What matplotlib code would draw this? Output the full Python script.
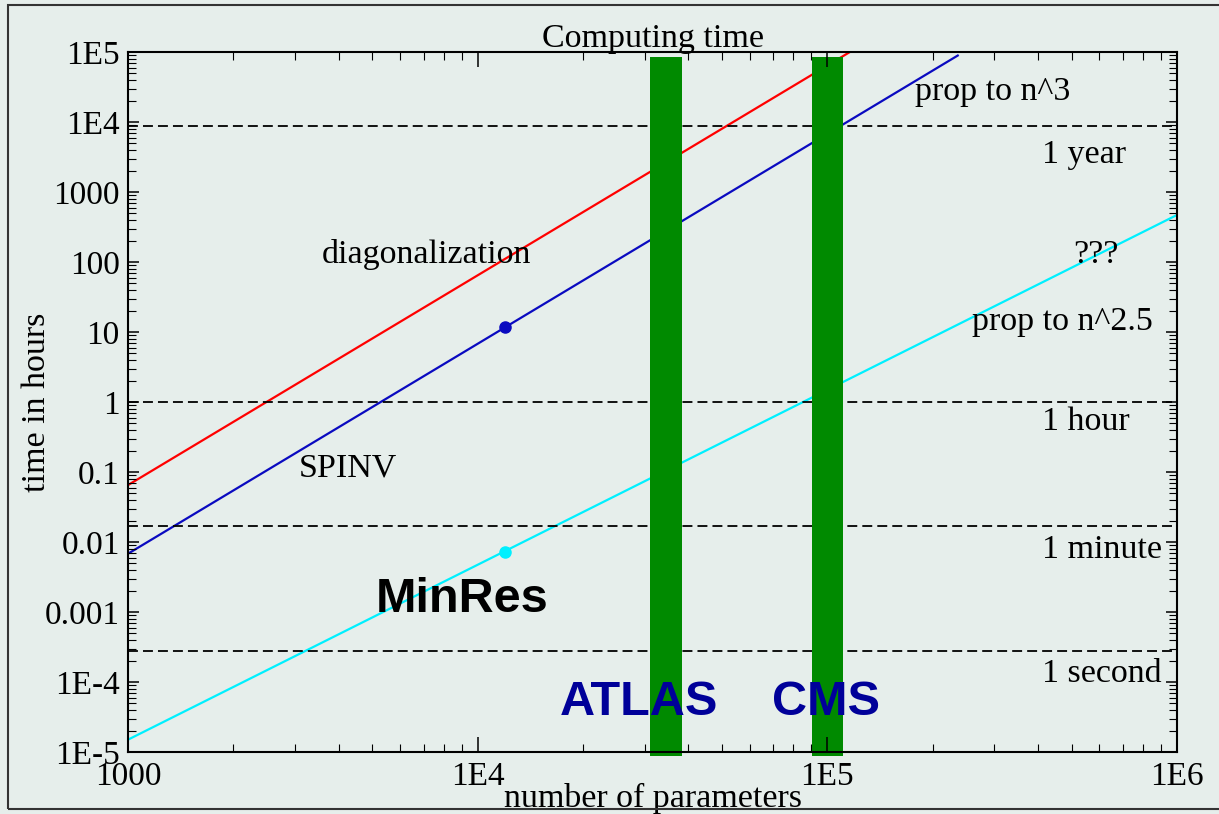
import numpy as np
import matplotlib
matplotlib.use('Agg')
import matplotlib.pyplot as plt
from matplotlib.ticker import LogLocator, NullFormatter
from matplotlib.patches import Rectangle

# values: n = number of parameters, t = time in hours
diag_n = [1000, 116000]
diag_t = [0.065, 1.0e5]
spinv_n = [1000, 236000]
spinv_t = [0.0068, 8.9e4]
minres_n = [1000, 1.0e6]
minres_t = [1.5e-5, 470]

# measured points
spinv_pt_n = [12000]
spinv_pt_t = [11.7]
minres_pt_n = [12000]
minres_pt_t = [0.0073]

# reference times (hours): 1 year, 1 hour, 1 minute, 1 second
time_limits = [8760, 1, 1 / 60, 1 / 3600]

# experiment sizes (range of parameters)
exp_names = ['ATLAS', 'CMS']
exp_lo = [3.11e4, 9.04e4]
exp_hi = [3.84e4, 1.11e5]

x_ticks = [1e3, 1e4, 1e5, 1e6]
x_labels = ['1000', '1E4', '1E5', '1E6']
y_ticks = [1e-5, 1e-4, 1e-3, 1e-2, 1e-1, 1, 10, 100, 1000, 1e4, 1e5]
y_labels = ['1E-5', '1E-4', '0.001', '0.01', '0.1', '1', '10', '100', '1000', '1E4', '1E5']

bg = '#e6eeeb'
plt.rcParams['font.family'] = ['Liberation Serif', 'DejaVu Serif']

fig = plt.figure(figsize=(12.19, 8.14), dpi=100, facecolor=bg)
ax = fig.add_axes([128 / 1219, 62 / 814, 1049 / 1219, 700 / 814])
ax.set_facecolor(bg)
ax.set_xscale('log')
ax.set_yscale('log')
ax.set_xlim(1e3, 1e6)
ax.set_ylim(1e-5, 1e5)

ax.plot(diag_n, diag_t, color='#ff0000', lw=1.6)
ax.plot(spinv_n, spinv_t, color='#0a0ac0', lw=1.6)
ax.plot(minres_n, minres_t, color='#00f0ff', lw=1.6)
ax.plot(spinv_pt_n, spinv_pt_t, 'o', color='#0a0ac0', ms=8)
ax.plot(minres_pt_n, minres_pt_t, 'o', color='#00f0ff', ms=8)

for t in time_limits:
    ax.axhline(t, color='black', lw=1.3, ls=(0, (5.5, 2.8)))

for lo, hi in zip(exp_lo, exp_hi):
    ax.axvspan(lo, hi, ymin=-0.006, ymax=0.993, color='#008a00', lw=0,
               zorder=2.2, clip_on=False)

# ticks
ax.set_axisbelow(False)
ax.set_xticks(x_ticks, x_labels)
ax.set_yticks(y_ticks, y_labels)
ax.xaxis.set_minor_locator(LogLocator(base=10, subs=np.arange(2, 10), numticks=100))
ax.yaxis.set_minor_locator(LogLocator(base=10, subs=np.arange(2, 10), numticks=100))
ax.xaxis.set_minor_formatter(NullFormatter())
ax.yaxis.set_minor_formatter(NullFormatter())
ax.tick_params(which='both', direction='in', top=True, right=True, labelsize=24)
ax.tick_params(axis='x', which='major', length=10.5, width=1.1, pad=7)
ax.tick_params(axis='y', which='major', length=8, width=1.1, pad=6)
ax.tick_params(which='minor', length=5.5, width=0.8)
for s in ax.spines.values():
    s.set_linewidth(1.5)

ax.text(0.5, 1 + 5 / 700, 'Computing time', transform=ax.transAxes,
        ha='center', va='baseline', fontsize=24.5)
ax.set_xlabel('number of parameters', fontsize=24.5)
ax.xaxis.set_label_coords(0.5, -55 / 700)
ax.xaxis.label.set_va('baseline')
ax.set_ylabel('time in hours', fontsize=24.5)
ax.yaxis.set_label_coords(-83 / 1049, 0.5)
ax.yaxis.label.set_va('baseline')

# annotations
fs = 24.5
ax.text(3.59e3, 97, 'diagonalization', fontsize=fs, va='baseline')
ax.text(3.08e3, 0.085, 'SPINV', fontsize=fs, va='baseline')
ax.text(1.78e5, 2.06e4, 'prop to n^3', fontsize=fs, va='baseline')
ax.text(5.04e5, 97, '???', fontsize=fs, va='baseline')
ax.text(2.6e5, 10.7, 'prop to n^2.5', fontsize=fs, va='baseline')
ax.text(4.11e5, 2.6e3, '1 year', fontsize=fs, va='baseline')
ax.text(4.11e5, 0.398, '1 hour', fontsize=fs, va='baseline')
ax.text(4.11e5, 5.9e-3, '1 minute', fontsize=fs, va='baseline')
ax.text(4.11e5, 1.0e-4, '1 second', fontsize=fs, va='baseline')

bold = dict(fontsize=35, fontweight='bold', family=['Liberation Sans', 'DejaVu Sans'],
            va='baseline', zorder=3)
ax.text(5.12e3, 1.0e-3, 'MinRes', color='black', **bold)
ax.text(2.89e4, 3.38e-5, exp_names[0], color='#000099', ha='center', **bold)
ax.text(9.9e4, 3.38e-5, exp_names[1], color='#000099', ha='center', **bold)

# outer frame
fig.add_artist(Rectangle((8 / 1219, 5 / 814), 1.2, 804 / 814, transform=fig.transFigure,
                         fill=False, lw=1.5, ec='#333333'))

fig.savefig('out.png', dpi=100, facecolor=bg)
